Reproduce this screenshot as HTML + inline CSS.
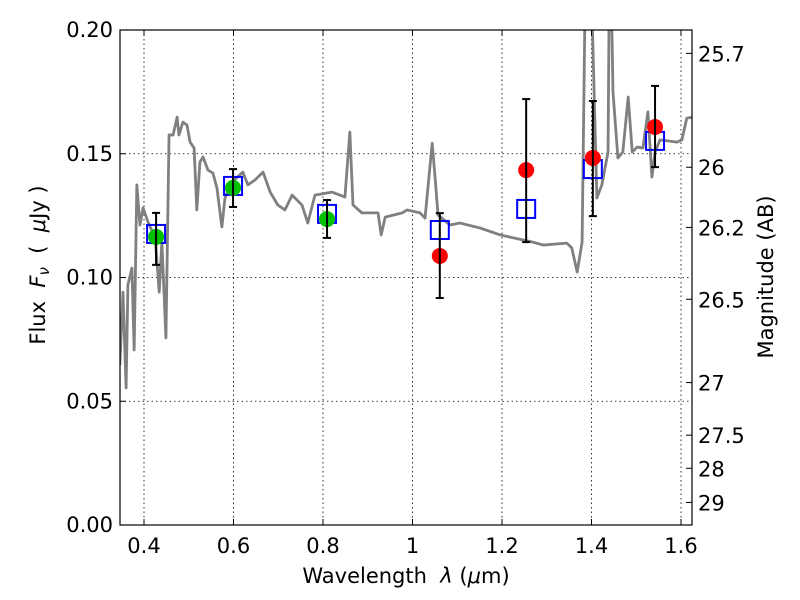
<!DOCTYPE html>
<html><head><meta charset="utf-8"><style>
body{margin:0;background:#fff;}
svg{display:block;font-family:"DejaVu Sans","Liberation Sans",sans-serif;}
</style></head><body>
<svg id="chart" width="800" height="600" viewBox="0 0 800 600">
<defs><clipPath id="clip"><rect x="120" y="30" width="572" height="495"/></clipPath></defs>
<g id="grid"></g>
<g id="spec" clip-path="url(#clip)"></g>
<g id="marks" clip-path="url(#clip)"></g>
<rect x="120" y="30" width="572" height="495" fill="none" stroke="#000" stroke-width="1.2"/>
<g id="axes"></g>
<text x="406" y="583" font-size="21" text-anchor="middle" xml:space="preserve">Wavelength  <tspan font-style="italic">λ</tspan> (<tspan font-style="italic">μ</tspan>m)</text>
<text transform="translate(45,265) rotate(-90)" font-size="21" text-anchor="middle" xml:space="preserve">Flux  <tspan font-style="italic">F<tspan font-size="15" dy="4">ν</tspan></tspan><tspan dy="-4">  (  </tspan><tspan font-style="italic">μ</tspan>Jy )</text>
<text transform="translate(773,277) rotate(-90)" font-size="21" text-anchor="middle">Magnitude (AB)</text>
</svg>
<script>
const specW=[0.346,0.353,0.360,0.364,0.373,0.378,0.384,0.391,0.398,0.409,0.425,0.434,0.440,0.449,0.456,0.465,0.474,0.478,0.487,0.496,0.503,0.512,0.518,0.525,0.532,0.543,0.554,0.563,0.574,0.581,0.597,0.621,0.632,0.648,0.666,0.682,0.699,0.715,0.731,0.753,0.766,0.782,0.820,0.849,0.860,0.867,0.887,0.923,0.930,0.939,0.977,0.988,1.017,1.028,1.044,1.050,1.057,1.084,1.106,1.151,1.196,1.269,1.292,1.345,1.356,1.368,1.379,1.385,1.390,1.395,1.412,1.423,1.437,1.441,1.448,1.459,1.470,1.482,1.491,1.502,1.515,1.526,1.535,1.542,1.553,1.591,1.602,1.613,1.627];
const specF=[0.0646,0.0941,0.0554,0.0970,0.1038,0.0707,0.1374,0.1212,0.1281,0.1224,0.1160,0.0941,0.1143,0.0756,0.1576,0.1576,0.1648,0.1576,0.1628,0.1616,0.1547,0.1523,0.1273,0.1467,0.1487,0.1434,0.1422,0.1362,0.1204,0.1321,0.1386,0.1426,0.1374,0.1394,0.1426,0.1345,0.1293,0.1273,0.1333,0.1293,0.1220,0.1333,0.1345,0.1325,0.1588,0.1293,0.1261,0.1261,0.1172,0.1244,0.1261,0.1273,0.1261,0.1240,0.1543,0.1414,0.1253,0.1212,0.1220,0.1200,0.1172,0.1143,0.1131,0.1139,0.1119,0.1022,0.1143,0.202,0.25,0.25,0.1321,0.1374,0.1507,0.25,0.175,0.1483,0.1507,0.1729,0.1507,0.1527,0.1523,0.1669,0.1406,0.1507,0.1556,0.1547,0.1556,0.1644,0.1648];
const obsW=[0.427,0.599,0.809,1.061,1.254,1.403,1.542];
const obsF=[0.1164,0.1362,0.1236,0.1087,0.1434,0.1483,0.1608];
const errHi=[0.1261,0.1438,0.1313,0.1260,0.1721,0.1713,0.1774];
const errLo=[0.1051,0.1285,0.1160,0.0917,0.1143,0.1248,0.1446];
const modelF=[0.1176,0.1370,0.1257,0.1192,0.1277,0.1438,0.1552];
const obsColor=['#00c000','#00c000','#00c000','#ff0000','#ff0000','#ff0000','#ff0000'];
const xTicks=[0.4,0.6,0.8,1.0,1.2,1.4,1.6];
const xLabels=['0.4','0.6','0.8','1','1.2','1.4','1.6'];
const yTicks=[0,0.05,0.10,0.15,0.20];
const yLabels=['0.00','0.05','0.10','0.15','0.20'];
const magTicks=[25.7,26,26.2,26.5,27,27.5,28,29];
const magLabels=['25.7','26','26.2','26.5','27','27.5','28','29'];
const X=w=>144+(w-0.4)*447.5, Y=f=>525-f*2475;
const magF=m=>3631e6*Math.pow(10,-0.4*m);
const NS='http://www.w3.org/2000/svg';
function mk(tag,attrs,parent){const e=document.createElementNS(NS,tag);for(const k in attrs)e.setAttribute(k,attrs[k]);parent.appendChild(e);return e;}
const grid=document.getElementById('grid'),axes=document.getElementById('axes'),spec=document.getElementById('spec'),marks=document.getElementById('marks');
xTicks.forEach((t,i)=>{const x=X(t);
 const g=mk('line',{x1:x,x2:x,y1:30,y2:525,stroke:'#000','stroke-width':0.8,'stroke-dasharray':'1.5,3'},grid);
 
 mk('line',{x1:x,x2:x,y1:525,y2:519,stroke:'#000'},axes);mk('line',{x1:x,x2:x,y1:30,y2:36,stroke:'#000'},axes);
 const l=mk('text',{x:x,y:553,'font-size':21,'text-anchor':'middle'},axes);l.textContent=xLabels[i];
 });
yTicks.forEach((t,i)=>{const y=Y(t);
 const g=mk('line',{x1:120,x2:692,y1:y,y2:y,stroke:'#000','stroke-width':0.8,'stroke-dasharray':'1.5,3'},grid);
 
 mk('line',{x1:120,x2:126,y1:y,y2:y,stroke:'#000'},axes);
 const l=mk('text',{x:113,y:y+7,'font-size':21,'text-anchor':'end'},axes);l.textContent=yLabels[i];
 });
magTicks.forEach((m,i)=>{const y=Y(magF(m));
 mk('line',{x1:686,x2:692,y1:y,y2:y,stroke:'#000'},axes);
 const l=mk('text',{x:698,y:y+8,'font-size':21},axes);l.textContent=magLabels[i];
 });
const p=mk('polyline',{points:specW.map((w,i)=>X(w)+','+Y(specF[i])).join(' '),fill:'none',stroke:'#808080','stroke-width':2.8,'stroke-linejoin':'round'},spec);

obsW.forEach((w,i)=>{const x=X(w);
 const s=mk('rect',{x:x-9,y:Y(modelF[i])-9,width:18,height:18,fill:'none',stroke:'#0000ff','stroke-width':2},marks);
 
 const c=mk('circle',{cx:x,cy:Y(obsF[i]),r:8,fill:obsColor[i]},marks);
 
 const e=mk('g',{stroke:'#000','stroke-width':2},marks);
 
 mk('line',{x1:x,x2:x,y1:Y(errHi[i]),y2:Y(errLo[i])},e);
 mk('line',{x1:x-4,x2:x+4,y1:Y(errHi[i]),y2:Y(errHi[i])},e);
 mk('line',{x1:x-4,x2:x+4,y1:Y(errLo[i]),y2:Y(errLo[i])},e);});
</script>
</body></html>
